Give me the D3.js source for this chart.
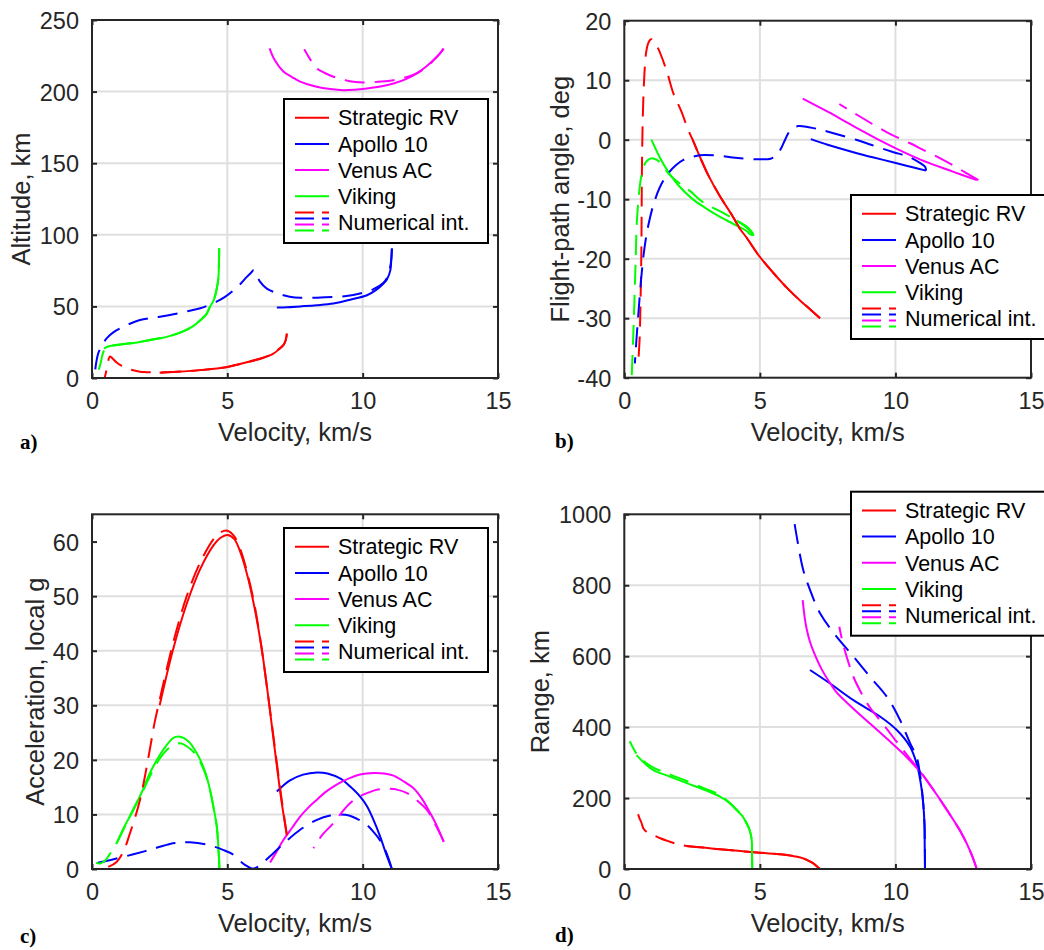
<!DOCTYPE html>
<html><head><meta charset="utf-8">
<script src="https://cdn.jsdelivr.net/npm/d3@7"></script>
<style>body{margin:0;background:#fff}</style>
</head><body>
<svg id="chart" width="1044" height="950"></svg>
<script>
// ---------- labels / ticks ----------
const velTicks = [0, 5, 10, 15];
const seriesNames = ["Strategic RV", "Apollo 10", "Venus AC", "Viking"];
const numLabel = "Numerical int.";
const seriesColors = ["#ff0000", "#0000ff", "#ff00ff", "#00ff00"];
const xLabel = "Velocity, km/s";
const yLabels = ["Altitude, km", "Flight-path angle, deg", "Acceleration, local g", "Range, km"];
const panelTags = ["a)", "b)", "c)", "d)"];
const altTicks = [0, 50, 100, 150, 200, 250];
const fpaTicks = [-40, -30, -20, -10, 0, 10, 20];
const accTicks = [0, 10, 20, 30, 40, 50, 60];
const rngTicks = [0, 200, 400, 600, 800, 1000];

// ---------- a) Altitude (km) vs velocity (km/s) ----------
const altRV = [[7.2,31],[7.15,26],[7.07,23],[6.9,20],[6.7,17],[6.3,14],[5.5,10],[5.0,7.7],[4.0,5.5],[3.0,4.2],[2.5,3.7]];
const altRVNum = [[7.2,31],[7.15,26],[7.07,23],[6.9,20],[6.7,17],[6.3,14],[5.5,10],[5.0,7.7],[4.0,5.5],[3.0,4.2],[2.5,3.8],[2.0,4.1],[1.77,4.4],[1.4,6],[1.1,8.4],[0.9,11],[0.75,13.8],[0.66,15],[0.6,12],[0.55,7],[0.48,1],[0.46,0]];
const altApollo = [[11.08,90.4],[11.06,84],[11.02,75],[10.9,69],[10.77,66],[10.5,61.5],[10.16,57.8],[9.5,54.5],[8.92,52],[8.3,50.8],[7.69,50],[7.2,49.4],[6.83,49.2]];
const altApolloNum = [[11.08,90.4],[11.04,80],[10.9,70],[10.77,66.5],[10.4,62],[9.9,59],[9.4,57.2],[8.9,56.5],[8.3,56.1],[7.7,56],[7.3,56.8],[7.07,57.8],[6.8,59.5],[6.46,62.4],[6.2,67.5],[6.03,74],[5.97,75.3],[5.85,73],[5.72,70.6],[5.5,66],[5.23,61.3],[4.9,56.5],[4.6,53.3],[4.0,48.7],[3.5,46.5],[2.88,44],[2.3,42.2],[1.77,40.5],[1.16,35.8],[0.8,32],[0.54,27.7],[0.35,22],[0.23,17.2],[0.15,10],[0.11,4.4],[0.07,0]];
const altVenus = [[6.56,230.2],[6.75,222],[7.07,214],[7.4,210],[7.69,207],[8.3,203.4],[8.8,201.8],[9.29,201],[9.7,201.3],[10.16,202.2],[10.7,203.7],[11.14,205.7],[11.6,208.7],[12.0,212.7],[12.35,217.5],[12.62,222],[12.85,226.5],[12.99,230]];
const altVenusNum = [[12.99,230],[12.85,226.5],[12.62,222],[12.5,219.5],[12.2,215],[11.88,211.8],[11.5,209.5],[11.14,208],[10.7,207],[10.16,206.4],[9.66,206.8],[9.3,208.3],[8.92,210.4],[8.6,213],[8.3,216.3],[8.15,220],[8.0,224.4],[7.84,229.5]];
const altViking = [[4.7,90.6],[4.69,80],[4.67,70],[4.6,61.5],[4.49,54],[4.36,49.8],[4.24,45],[4.0,40.3],[3.74,36.2],[3.3,32],[2.76,28.7],[2.51,27.7],[2.0,26],[1.53,24.5],[1.03,23.4],[0.67,22.3],[0.5,21.2],[0.45,20.3]];
const altVikingNum = [[4.7,90.6],[4.69,80],[4.67,70],[4.6,61.5],[4.49,54],[4.36,49.8],[4.24,45],[4.0,40.3],[3.74,36.2],[3.3,32],[2.76,28.7],[2.51,27.7],[2.0,26],[1.53,24.5],[1.03,23.4],[0.67,22.3],[0.5,21],[0.4,17],[0.3,9],[0.22,4],[0.17,0]];

// ---------- b) Flight-path angle (deg) vs velocity ----------
const fpaRV = [[7.22,-30],[6.9,-28.7],[6.5,-27.1],[6.0,-24.9],[5.5,-22.4],[5.0,-19.7],[4.5,-16.4],[4.27,-15.0],[4.0,-12.9],[3.5,-9.3],[3.1,-6],[2.8,-3],[2.52,0]];
const fpaRVNum = [[7.22,-30],[6.9,-28.7],[6.5,-27.1],[6.0,-24.9],[5.5,-22.4],[5.0,-19.7],[4.5,-16.4],[4.27,-15.0],[4.0,-12.9],[3.5,-9.3],[3.1,-6],[2.8,-3],[2.52,0],[2.36,1.6],[2.1,4.8],[1.81,7.8],[1.6,11],[1.38,13.9],[1.2,15.8],[1.08,16.6],[0.985,16.9],[0.88,16.2],[0.8,14.5],[0.73,10],[0.68,3.3],[0.65,-5],[0.64,-12],[0.63,-18.5],[0.6,-26.9],[0.55,-34.8],[0.48,-37.6],[0.42,-37.7]];
const fpaApollo = [[6.88,0.1],[7.5,-0.85],[8.45,-2.1],[9.2,-3.0],[10.05,-3.95],[10.6,-4.6],[11.13,-5.2]];
const fpaApolloNum = [[11.13,-5.2],[11.1,-4.6],[10.9,-3.9],[10.48,-2.85],[9.93,-2.1],[9.13,-0.9],[8.58,-0.05],[7.78,1.0],[7.22,1.7],[6.8,2.1],[6.42,2.3],[6.2,1.9],[6.05,1.1],[5.93,0],[5.8,-1.3],[5.62,-2.6],[5.4,-3.2],[5.0,-3.3],[4.5,-3.2],[4.0,-3.0],[3.53,-2.7],[2.79,-2.6],[2.5,-2.9],[2.18,-3.4],[1.9,-4.3],[1.62,-5.65],[1.32,-7.9],[1.07,-11],[0.89,-14.3],[0.75,-18],[0.64,-22.5],[0.52,-29.2],[0.45,-33.5],[0.39,-37.6]];
const fpaVenus = [[6.58,6.9],[7.5,4.7],[8.45,2.3],[9.68,-0.7],[10.9,-3.3],[12.14,-5.4],[13.0,-6.8]];
const fpaVenusNum = [[13.06,-6.8],[12.2,-4.5],[11.76,-3.4],[11.02,-1.7],[10.54,-0.6],[9.74,1.1],[8.69,3.9],[7.93,6.0]];
const fpaViking = [[4.15,-13.6],[4.45,-14.4],[4.65,-15.2],[4.76,-16.0],[4.65,-15.9],[4.5,-15.3],[4.0,-14.1],[3.5,-12.9],[3.0,-11.5],[2.5,-9.9],[2.0,-7.7],[1.65,-5.6],[1.3,-2.9],[1.0,0]];
const fpaVikingNum = [[4.76,-16.0],[4.5,-14.7],[4.1,-13.5],[3.65,-12.3],[2.9,-10.5],[2.42,-8.6],[2.0,-7.2],[1.62,-5.65],[1.44,-4.5],[1.2,-3.4],[1.01,-3.1],[0.85,-3.5],[0.73,-4.3],[0.64,-5.8],[0.58,-7.5],[0.52,-10.2],[0.46,-14],[0.42,-20],[0.38,-26],[0.33,-33],[0.27,-40]];

// ---------- c) Acceleration (local g) vs velocity ----------
const accRV = [[7.2,6.2],[7.0,12.5],[6.75,22],[6.5,32],[6.25,41],[6.0,48],[5.75,53.6],[5.5,57.8],[5.25,60.5],[5.0,61.2],[4.75,60.7],[4.5,59.4],[4.0,55],[3.5,48.6],[3.0,40.3],[2.5,30]];
const accRVNum = [[7.2,6.2],[7.0,13],[6.75,22.5],[6.5,32],[6.25,41],[6.0,48.5],[5.75,54],[5.5,58.3],[5.25,61],[5.0,62],[4.75,61.7],[4.5,60.5],[4.0,56.2],[3.5,50],[3.0,41.5],[2.5,31],[2.3,26.5],[2.14,22],[1.77,12.6],[1.4,6.5],[1.16,3.2],[0.91,1.3],[0.6,0.4]];
const accApollo = [[6.83,14.2],[7.3,16.2],[7.8,17.3],[8.31,17.7],[8.7,17.5],[9.2,16.5],[9.54,15.1],[9.9,13.3],[10.16,11.5],[10.4,9],[10.65,5.9],[10.85,3],[11.08,0]];
const accApolloNum = [[11.08,0],[10.85,3.3],[10.65,5.2],[10.4,6.8],[10.1,8.3],[9.79,9.2],[9.5,9.8],[9.17,10.0],[8.8,9.8],[8.31,9.0],[7.69,7.2],[7.2,5.2],[6.7,2.9],[6.3,1.1],[6.09,0.3],[5.9,0.1],[5.7,0.6],[5.58,1.0],[5.23,2.6],[4.84,3.5],[4.23,4.5],[3.62,4.9],[3.2,4.8],[2.88,4.6],[2.2,3.6],[1.53,2.7],[0.8,1.8],[0.11,1.04]];
const accVenus = [[6.58,1.2],[6.8,3],[7.07,5.3],[7.4,7.6],[7.69,9.6],[8.0,11.3],[8.31,12.7],[8.6,14],[8.92,15.1],[9.24,16],[9.54,16.7],[9.9,17.3],[10.4,17.6],[10.8,17.5],[11.14,17.1],[11.5,16.1],[11.88,14.8],[12.2,12.8],[12.5,10.2],[12.75,7.8],[12.99,5.0]];
const accVenusNum = [[13.0,5.0],[12.7,8],[12.38,10.8],[12.0,12.6],[11.64,13.9],[11.3,14.5],[10.9,14.7],[10.5,14.5],[10.16,13.9],[9.85,13.2],[9.54,12.1],[9.2,10.2],[8.92,8.4],[8.5,6.2],[8.18,3.8]];
const accViking = [[0.91,4.7],[1.2,7.8],[1.53,10.8],[1.85,14.2],[2.14,17.6],[2.4,20],[2.64,21.9],[3.0,24.0],[3.2,24.3],[3.4,24.0],[3.62,23.1],[3.8,21.8],[4.0,20.0],[4.2,17.5],[4.36,14.5],[4.5,11],[4.61,7.8],[4.68,3],[4.71,0]];
const accVikingNum = [[4.71,0],[4.68,3],[4.61,7.8],[4.5,11],[4.36,14.5],[4.2,17.3],[4.0,19.6],[3.8,21.2],[3.5,22.5],[3.3,23],[3.1,22.9],[2.8,22],[2.5,20.2],[2.2,17.6],[1.9,14.5],[1.6,11.7],[1.3,8.7],[1.0,5.6],[0.8,3.8],[0.6,2.3],[0.5,1.6],[0.3,1.0],[0.1,1.2]];

// ---------- d) Range (km) vs velocity ----------
const rngRV = [[7.22,0],[7.1,8],[6.97,16],[6.8,23],[6.6,30],[6.3,35.5],[5.99,39.5],[5.5,43],[5.0,46],[4.3,50.5],[3.53,55.5],[2.9,60.5],[2.3,65]];
const rngRVNum = [[7.22,0],[7.1,8],[6.97,16],[6.8,23],[6.6,30],[6.3,35.5],[5.99,39.5],[5.5,43],[5.0,46],[4.3,50.5],[3.53,55.5],[2.9,60.5],[2.3,65],[2.0,69],[1.68,77],[1.35,86],[1.07,96],[0.9,102],[0.82,105],[0.7,115],[0.64,129],[0.55,145],[0.52,152],[0.45,162]];
const rngApollo = [[11.09,0],[11.08,60],[11.07,129],[11.03,180],[10.97,223],[10.88,265],[10.78,298],[10.54,345],[10.05,392],[9.43,430],[8.45,476],[7.59,523],[6.85,561]];
const rngApolloNum = [[11.09,0],[11.07,129],[10.97,230],[10.88,280],[10.78,317],[10.54,355],[10.17,420],[9.68,486],[9.06,542],[8.45,599],[7.83,655],[7.22,721],[6.85,787],[6.6,843],[6.36,937],[6.23,998]];
const rngVenus = [[13.0,0],[12.85,33],[12.63,72],[12.4,106],[12.14,138],[11.8,178],[11.52,210],[11.2,245],[10.9,275],[10.6,300],[10.29,325],[9.98,347],[9.68,368],[9.06,410],[8.45,452],[7.83,498],[7.59,524],[7.3,560],[7.05,600],[6.85,640],[6.73,675],[6.66,705],[6.58,758]];
const rngVenusNum = [[13.0,0],[12.85,33],[12.63,72],[12.4,106],[12.14,138],[11.8,178],[11.52,210],[11.2,245],[10.9,277],[10.6,305],[10.29,335],[9.98,365],[9.68,395],[9.4,422],[9.06,455],[8.75,495],[8.45,542],[8.2,599],[8.05,640],[7.93,683]];
const rngViking = [[4.72,0],[4.71,40],[4.7,82],[4.62,110],[4.51,129],[4.35,150],[4.14,166],[3.9,185],[3.53,204],[3.0,222],[2.3,242],[1.7,260],[1.07,279],[0.75,298],[0.45,321]];
const rngVikingNum = [[4.72,0],[4.71,40],[4.7,82],[4.62,110],[4.51,129],[4.35,150],[4.14,168],[3.53,208],[3.0,226],[2.3,248],[1.7,266],[1.07,286],[0.7,305],[0.45,325],[0.3,345],[0.2,360]];

// ---------- layout ----------
const FONT = "'Liberation Sans', Arial, Helvetica, sans-serif";
const AX = "#262626";
const panels = [
  {box:[92,498,20,378], yDomain:[0,250], yTicks:altTicks, yLabelX:30, tagX:20, tagY:449,
   legend:[284,99,204], ana:[altRV,altApollo,altVenus,altViking], num:[altRVNum,altApolloNum,altVenusNum,altVikingNum]},
  {box:[624.3,1031,20.7,377.7], yDomain:[-40,20], yTicks:fpaTicks, yLabelX:569, tagX:555, tagY:448,
   legend:[851,195,230], ana:[fpaRV,fpaApollo,fpaVenus,fpaViking], num:[fpaRVNum,fpaApolloNum,fpaVenusNum,fpaVikingNum]},
  {box:[92,498,514.3,869], yDomain:[0,65], yTicks:accTicks, yLabelX:44, tagX:20, tagY:943,
   legend:[284,528,204], ana:[accRV,accApollo,accVenus,accViking], num:[accRVNum,accApolloNum,accVenusNum,accVikingNum]},
  {box:[624.3,1031,514.3,869], yDomain:[0,1000], yTicks:rngTicks, yLabelX:549, tagX:555, tagY:942,
   legend:[851,491.7,230], ana:[rngRV,rngApollo,rngVenus,rngViking], num:[rngRVNum,rngApolloNum,rngVenusNum,rngVikingNum]}
];

const svg = d3.select("#chart");
svg.append("rect").attr("width",1044).attr("height",950).attr("fill","#fff");
const fmt = d => String(d);

panels.forEach((p, i) => {
  const [x0,x1,y0,y1] = p.box;
  const xs = d3.scaleLinear().domain([0,15]).range([x0,x1]);
  const ys = d3.scaleLinear().domain(p.yDomain).range([y1,y0]);
  const g = svg.append("g");

  // grid
  g.selectAll(".gx").data(velTicks.slice(1,-1)).enter().append("line")
    .attr("x1",d=>xs(d)).attr("x2",d=>xs(d)).attr("y1",y0).attr("y2",y1)
    .attr("stroke","#dfdfdf").attr("stroke-width",2);
  g.selectAll(".gy").data(p.yTicks.slice(1,-1)).enter().append("line")
    .attr("x1",x0).attr("x2",x1).attr("y1",d=>ys(d)).attr("y2",d=>ys(d))
    .attr("stroke","#dfdfdf").attr("stroke-width",2);

  // clip
  const cid = "clip"+i;
  svg.append("clipPath").attr("id",cid).append("rect")
    .attr("x",x0).attr("y",y0).attr("width",x1-x0).attr("height",y1-y0);

  const line = d3.line().x(d=>xs(d[0])).y(d=>ys(d[1])).curve(d3.curveCatmullRom.alpha(0.5));
  const lg = g.append("g").attr("clip-path",`url(#${cid})`);
  p.ana.forEach((arr,k)=>{
    lg.append("path").attr("d",line(arr)).attr("fill","none")
      .attr("stroke",seriesColors[k]).attr("stroke-width",2).attr("stroke-linejoin","round");
  });
  p.num.forEach((arr,k)=>{
    lg.append("path").attr("d",line(arr)).attr("fill","none")
      .attr("stroke",seriesColors[k]).attr("stroke-width",2)
      .attr("stroke-dasharray","20,10");
  });

  // axes with inside ticks on all sides
  const axB = d3.axisBottom(xs).tickValues(velTicks).tickFormat(fmt).tickSizeInner(-5).tickSizeOuter(0).tickPadding(12);
  const axT = d3.axisTop(xs).tickValues(velTicks).tickSizeInner(-5).tickSizeOuter(0).tickFormat("");
  const axL = d3.axisLeft(ys).tickValues(p.yTicks).tickFormat(fmt).tickSizeInner(-5).tickSizeOuter(0).tickPadding(13);
  const axR = d3.axisRight(ys).tickValues(p.yTicks).tickSizeInner(-5).tickSizeOuter(0).tickFormat("");
  const styleAx = sel => {
    sel.select(".domain").remove();
    sel.selectAll(".tick line").attr("stroke",AX).attr("stroke-width",2);
    sel.selectAll(".tick text").attr("fill",AX).style("font-family",FONT).style("font-size","23.5px");
  };
  const gB = g.append("g").attr("transform",`translate(0,${y1})`).call(axB).call(styleAx);
  g.append("g").attr("transform",`translate(0,${y0})`).call(axT).call(styleAx);
  const gL = g.append("g").attr("transform",`translate(${x0},0)`).call(axL).call(styleAx);
  g.append("g").attr("transform",`translate(${x1},0)`).call(axR).call(styleAx);
  gB.selectAll(".tick text").attr("dy",null).attr("y",31);
  gL.selectAll(".tick text").attr("dy","0.36em");

  g.append("rect").attr("x",x0).attr("y",y0).attr("width",x1-x0).attr("height",y1-y0)
    .attr("fill","none").attr("stroke",AX).attr("stroke-width",2);

  // axis labels
  g.append("text").attr("x",(x0+x1)/2).attr("y",y1+63).attr("text-anchor","middle")
    .attr("fill",AX).style("font-family",FONT).style("font-size","25.5px").text(xLabel);
  g.append("text").attr("transform",`translate(${p.yLabelX},${(y0+y1)/2}) rotate(-90)`)
    .attr("text-anchor","middle").attr("fill",AX).style("font-family",FONT).style("font-size","25.5px").text(yLabels[i]);

  // panel tag
  g.append("text").attr("x",p.tagX).attr("y",p.tagY).attr("fill","#000")
    .style("font-family","'Liberation Serif','Times New Roman',serif").style("font-weight","bold")
    .style("font-size","21px").text(panelTags[i]);

  // legend
  const [lx,ly,lw] = p.legend;
  const leg = g.append("g");
  leg.append("rect").attr("x",lx).attr("y",ly).attr("width",lw).attr("height",144)
    .attr("fill","#fff").attr("stroke","#000").attr("stroke-width",2);
  const rowY = j => ly + 18.7 + 26.2*j;
  seriesNames.forEach((nm,j)=>{
    leg.append("line").attr("x1",lx+11).attr("x2",lx+45).attr("y1",rowY(j)).attr("y2",rowY(j))
      .attr("stroke",seriesColors[j]).attr("stroke-width",2);
    leg.append("text").attr("x",lx+54).attr("y",rowY(j)).attr("dy","0.36em")
      .attr("fill","#000").style("font-family",FONT).style("font-size","21.5px").text(nm);
  });
  const ny = rowY(4);
  seriesColors.forEach((c,j)=>{
    const yy = ny - 10 + j*6;
    leg.append("line").attr("x1",lx+11).attr("x2",lx+45).attr("y1",yy).attr("y2",yy)
      .attr("stroke",c).attr("stroke-width",2).attr("stroke-dasharray","19,8");
  });
  leg.append("text").attr("x",lx+54).attr("y",ny).attr("dy","0.36em")
    .attr("fill","#000").style("font-family",FONT).style("font-size","21.5px").text(numLabel);
});
</script>
</body></html>
